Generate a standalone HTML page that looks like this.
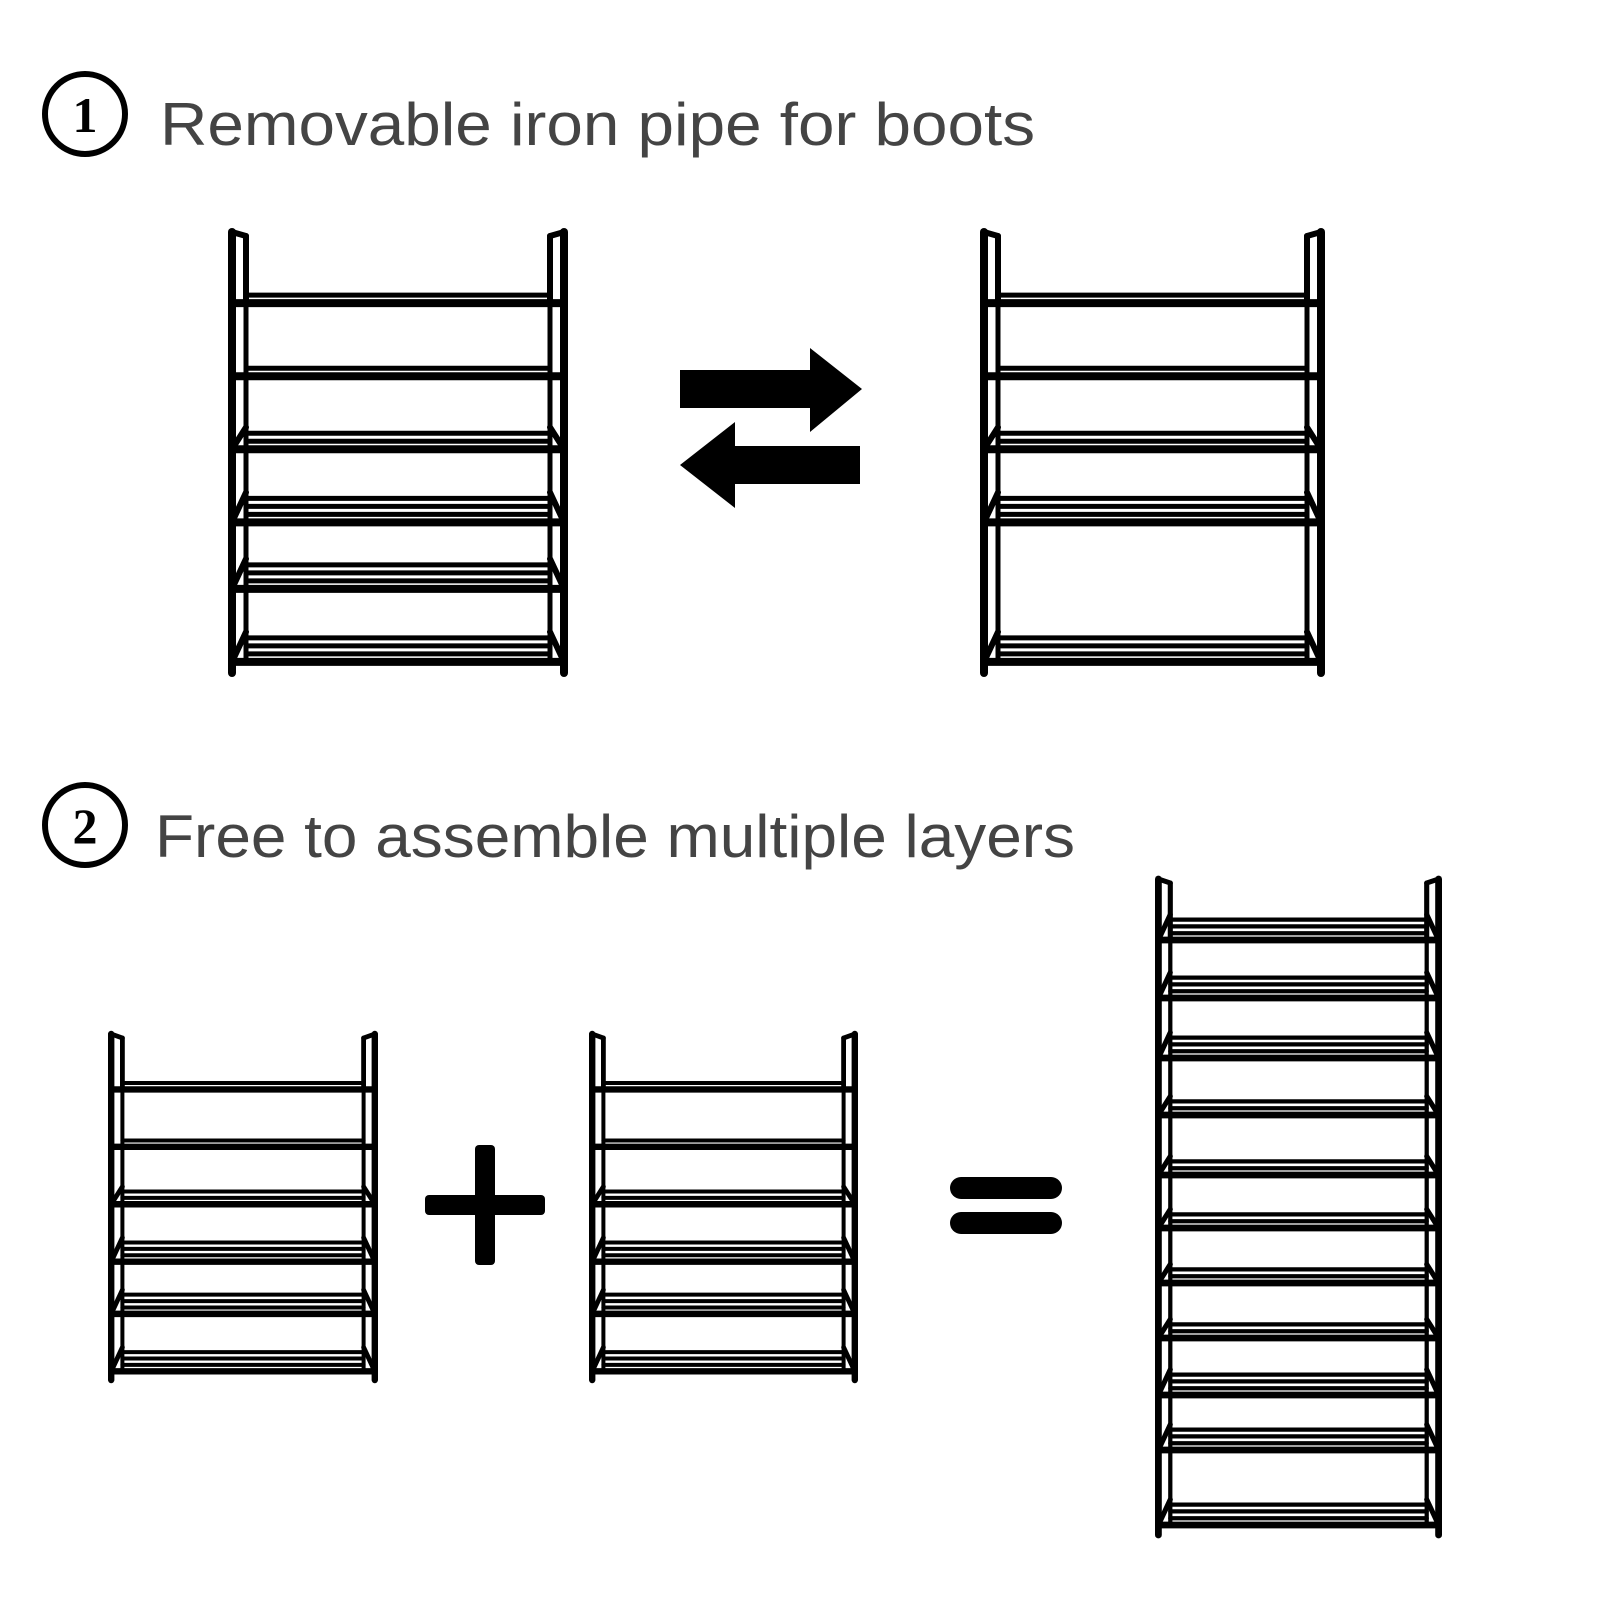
<!DOCTYPE html>
<html><head><meta charset="utf-8"><style>
html,body{margin:0;padding:0;background:#fff;width:1600px;height:1600px;overflow:hidden}
svg{position:absolute;left:0;top:0}
</style></head><body>
<svg id="s" width="1600" height="1600" viewBox="0 0 1600 1600" xmlns="http://www.w3.org/2000/svg">
<circle cx="85" cy="114" r="40" fill="none" stroke="#000" stroke-width="6"/>
<text x="85" y="132" text-anchor="middle" font-family="Liberation Serif, serif" font-weight="bold" font-size="50" fill="#000">1</text>
<text x="160" y="145" font-family="Liberation Sans, sans-serif" font-size="60" fill="#444" textLength="875" lengthAdjust="spacingAndGlyphs">Removable iron pipe for boots</text>
<circle cx="85" cy="825" r="40" fill="none" stroke="#000" stroke-width="6"/>
<text x="85" y="843" text-anchor="middle" font-family="Liberation Serif, serif" font-weight="bold" font-size="50" fill="#000">2</text>
<text x="155" y="857" font-family="Liberation Sans, sans-serif" font-size="60" fill="#444" textLength="920" lengthAdjust="spacingAndGlyphs">Free to assemble multiple layers</text>
<path d="M680 370H810V348L862 389L810 432V408H680Z" fill="#000"/>
<path d="M860 446H735V422L680 465L735 508V484H860Z" fill="#000"/>
<rect x="475" y="1145" width="20" height="120" rx="4" fill="#000"/>
<rect x="425" y="1195" width="120" height="20" rx="4" fill="#000"/>
<rect x="950" y="1177" width="112" height="22" rx="11" fill="#000"/>
<rect x="950" y="1212" width="112" height="22" rx="11" fill="#000"/>
<g id="racks" stroke="#000" fill="none" stroke-linecap="round"></g>
</svg>
<script>
var g=document.getElementById('racks'),out='';
function L(x1,y1,x2,y2,w){out+='<line x1="'+x1+'" y1="'+y1+'" x2="'+x2+'" y2="'+y2+'" stroke-width="'+w+'"/>';}
function rack(x,y,w,h,levels,s){
  var o=4*s,i=18*s,b=y+h,f=levels[0][0]*h+y;
  L(x+o,y+2,x+o,b,8*s);L(x+w-o,y+2,x+w-o,b,8*s);
  L(x+o,y+2,x+i,y+6,6*s);L(x+i,y+6,x+i,f,6*s);
  L(x+w-o,y+2,x+w-i,y+6,6*s);L(x+w-i,y+6,x+w-i,f,6*s);
  L(x+i,f,x+i,b-14*s,5*s);L(x+w-i,f,x+w-i,b-14*s,5*s);
  levels.forEach(function(l){
    var yy=y+l[0]*h,n=l[1];
    L(x+o+2,yy,x+w-o-2,yy,8*s);
    for(var k=1;k<n;k++){var d=k*8*s;L(x+i,yy-d,x+w-i,yy-d,5*s);}
    if(n>2){L(x+o,yy,x+i,yy-(n-1)*8*s-6*s,6*s);L(x+w-o,yy,x+w-i,yy-(n-1)*8*s-6*s,6*s);}
  });
}
var six=[[0.165,2],[0.33,2],[0.495,3],[0.66,4],[0.81,4],[0.975,4]];
rack(228,230,340,443,six,1);
rack(980,230,345,443,[[0.165,2],[0.33,2],[0.495,3],[0.66,4],[0.975,4]],1);
rack(108,1032,270,348,six,0.8);
rack(589,1032,269,348,six,0.8);
var tall=[];
[940,998,1058,1115,1175,1228,1283,1338,1395,1450,1525].forEach(function(v,k){tall.push([(v-877)/658,(k>=8?4:(k<3?4:3))]);});
rack(1155,877,287,658,tall,0.85);
g.innerHTML=out;
</script>
</body></html>
